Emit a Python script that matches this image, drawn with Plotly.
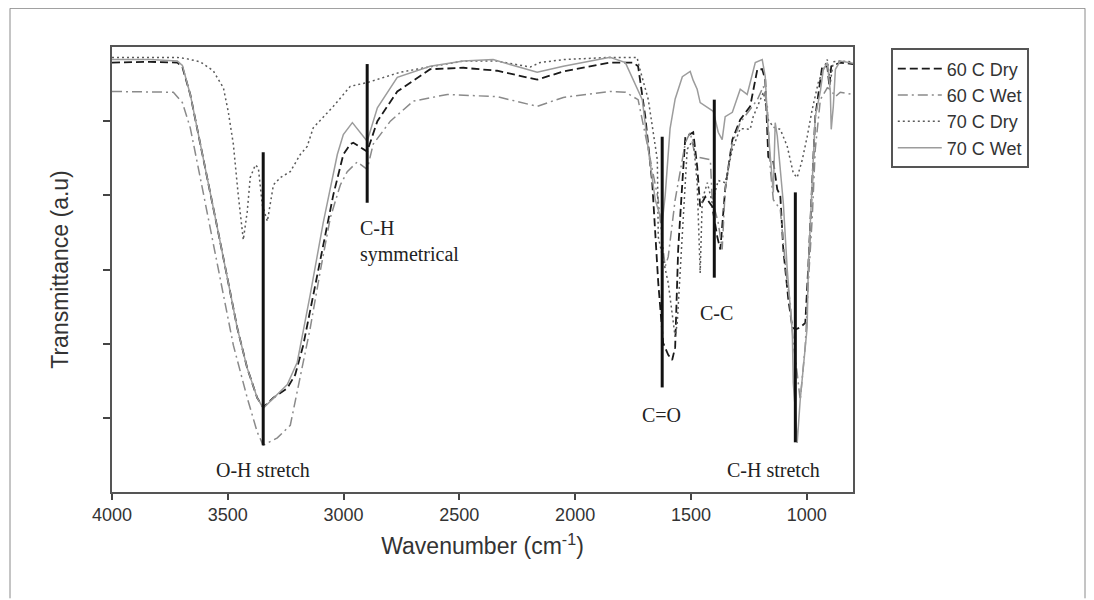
import plotly.graph_objects as go

# ---------------- data (wavenumber cm-1, transmittance a.u.) ----------------
dry60_wn = [4000, 3835, 3718, 3696, 3662, 3632, 3588, 3545, 3502, 3459, 3416, 3373, 3347,
            3303, 3243, 3209, 3174, 3131, 3088, 3044, 3001, 2971, 2958, 2898, 2854, 2768,
            2626, 2483, 2337, 2164, 2051, 1849, 1749, 1728, 1697, 1667, 1641, 1620, 1598,
            1581, 1568, 1555, 1537, 1524, 1490, 1473, 1460, 1438, 1408, 1386, 1373, 1352,
            1321, 1287, 1244, 1213, 1192, 1179, 1166, 1144, 1127, 1114, 1101, 1079, 1062,
            1049, 1028, 1006, 993, 976, 963, 933, 911, 902, 894, 855, 800]
dry60_t = [5.79, 5.80, 5.79, 5.73, 5.36, 4.91, 4.24, 3.56, 2.89, 2.21, 1.67, 1.27, 1.14,
           1.27, 1.40, 1.58, 1.98, 2.66, 3.33, 4.01, 4.55, 4.69, 4.71, 4.59, 5.00, 5.40,
           5.70, 5.72, 5.68, 5.56, 5.67, 5.79, 5.79, 5.74, 5.06, 4.17, 2.82, 2.01, 1.85,
           1.78, 1.95, 3.27, 4.17, 4.79, 4.85, 4.39, 3.85, 3.98, 3.85, 3.44, 3.27, 4.08,
           4.75, 5.02, 5.20, 5.70, 5.70, 5.56, 4.52, 4.45, 4.08, 4.00, 3.27, 2.59, 2.22,
           2.19, 2.22, 2.28, 3.04, 4.17, 5.06, 5.74, 5.74, 5.47, 5.74, 5.79, 5.77]

wet60_wn = [4000, 3835, 3735, 3696, 3662, 3619, 3576, 3532, 3476, 3416, 3373, 3347, 3286,
            3230, 3187, 3144, 3101, 3057, 3014, 2984, 2941, 2898, 2872, 2798, 2699, 2552,
            2337, 2164, 2051, 1849, 1783, 1728, 1684, 1641, 1620, 1611, 1598, 1568, 1524,
            1503, 1481, 1416, 1408, 1382, 1365, 1352, 1321, 1287, 1213, 1187, 1170, 1157,
            1144, 1114, 1101, 1084, 1071, 1058, 1041, 1028, 1006, 993, 976, 963, 941, 911,
            898, 876, 855, 800]
wet60_t = [5.40, 5.39, 5.39, 5.25, 4.91, 4.24, 3.56, 2.89, 1.98, 1.27, 0.81, 0.63, 0.73,
           0.90, 1.54, 2.21, 2.97, 3.70, 4.14, 4.32, 4.45, 4.35, 4.69, 5.00, 5.27, 5.36,
           5.33, 5.20, 5.32, 5.40, 5.39, 5.29, 4.62, 3.94, 3.27, 3.04, 3.17, 3.94, 4.71,
           4.85, 4.52, 4.48, 3.94, 3.63, 3.27, 4.08, 4.71, 4.98, 5.29, 5.47, 5.20, 4.35,
           3.94, 3.81, 3.36, 2.82, 2.55, 2.01, 1.60, 1.24, 1.98, 2.82, 3.70, 4.62, 5.29,
           5.45, 5.43, 5.33, 5.39, 5.36]

dry70_wn = [4000, 3835, 3718, 3675, 3619, 3563, 3519, 3498, 3476, 3455, 3433, 3416, 3403,
            3381, 3368, 3351, 3329, 3303, 3273, 3230, 3187, 3157, 3131, 3044, 2971, 2898,
            2755, 2613, 2483, 2337, 2194, 2151, 2051, 1849, 1732, 1728, 1684, 1645, 1641,
            1598, 1568, 1559, 1537, 1516, 1490, 1473, 1460, 1451, 1429, 1408, 1382, 1352,
            1321, 1287, 1244, 1231, 1187, 1166, 1144, 1114, 1084, 1058, 1041, 1019, 998,
            976, 950, 911, 898, 885, 855, 800]
dry70_t = [5.86, 5.86, 5.86, 5.84, 5.80, 5.68, 5.45, 5.13, 4.69, 4.01, 3.40, 3.78, 4.24,
           4.41, 4.37, 3.87, 3.65, 4.14, 4.24, 4.32, 4.55, 4.66, 4.91, 5.20, 5.47, 5.52,
           5.66, 5.74, 5.81, 5.81, 5.73, 5.79, 5.83, 5.86, 5.86, 5.79, 5.29, 4.48, 3.44,
           2.82, 2.09, 2.28, 3.43, 4.62, 4.75, 4.17, 2.95, 3.94, 4.17, 3.90, 4.20, 4.17,
           4.62, 4.90, 4.89, 5.06, 5.39, 5.02, 4.92, 4.89, 4.66, 4.30, 4.24, 4.48, 4.79,
           5.16, 5.52, 5.83, 5.52, 5.80, 5.81, 5.80]

wet70_wn = [4000, 3835, 3718, 3696, 3662, 3632, 3588, 3545, 3502, 3459, 3416, 3373, 3347,
            3303, 3243, 3200, 3144, 3088, 3027, 3001, 2971, 2962, 2898, 2854, 2768, 2626,
            2483, 2354, 2164, 2051, 1849, 1783, 1710, 1684, 1654, 1624, 1611, 1590, 1568,
            1537, 1503, 1490, 1473, 1460, 1416, 1403, 1382, 1365, 1352, 1321, 1287, 1257,
            1222, 1192, 1179, 1170, 1157, 1148, 1144, 1136, 1127, 1101, 1084, 1062, 1058,
            1049, 1041, 1028, 1015, 998, 993, 976, 963, 941, 928, 911, 898, 894, 885, 876,
            855, 800]
wet70_t = [5.83, 5.83, 5.81, 5.75, 5.36, 4.91, 4.24, 3.56, 2.89, 2.21, 1.67, 1.27, 1.13,
           1.27, 1.45, 1.75, 2.66, 3.63, 4.55, 4.82, 4.95, 4.98, 4.73, 5.18, 5.59, 5.74,
           5.81, 5.83, 5.66, 5.74, 5.86, 5.79, 5.29, 4.62, 3.94, 3.63, 4.00, 4.90, 5.30,
           5.60, 5.67, 5.55, 5.43, 5.25, 5.16, 5.13, 4.85, 4.75, 5.06, 5.12, 5.43, 5.36,
           5.79, 5.83, 5.60, 5.06, 4.52, 4.17, 4.04, 4.98, 4.80, 3.90, 3.00, 2.14, 1.47,
           1.10, 0.66, 1.24, 1.69, 2.22, 3.04, 4.10, 5.06, 5.40, 5.70, 5.79, 5.40, 4.89,
           5.20, 5.70, 5.81, 5.78]

series_names = ["60 C Dry", "60 C Wet", "70 C Dry", "70 C Wet"]

# band marker lines (wavenumber, top, bottom) and labels
band_wn = [3347, 2898, 1624, 1399, 1049]
band_top = [4.58, 5.77, 4.79, 5.29, 4.04]
band_bottom = [0.63, 3.90, 1.41, 2.89, 0.67]
band_labels = ["O-H stretch", "C-H<br>symmetrical", "C=O", "C-C", "C-H stretch"]

x_ticks = [4000, 3500, 3000, 2500, 2000, 1500, 1000]

# ---------------- figure ----------------
styles = [
    dict(color="#1a1a1a", width=1.8, dash="8px,4px"),
    dict(color="#8a8a8a", width=1.5, dash="10px,4px,2px,4px"),
    dict(color="#5a5a5a", width=1.5, dash="2px,3px"),
    dict(color="#9c9c9c", width=1.5, dash="solid"),
]
data = [(dry60_wn, dry60_t), (wet60_wn, wet60_t), (dry70_wn, dry70_t), (wet70_wn, wet70_t)]

fig = go.Figure()
for (xs, ys), name, st in zip(data, series_names, styles):
    fig.add_trace(go.Scatter(x=xs, y=ys, mode="lines", name=name, line=st))

for wn, t, b in zip(band_wn, band_top, band_bottom):
    fig.add_shape(type="line", xref="x", yref="y", x0=wn, x1=wn, y0=b, y1=t,
                  line=dict(color="#111111", width=3))

serif = dict(family="Liberation Serif, Times New Roman, serif", size=20, color="#222222")
label_pos = [(3347, 0.29, "center"), (2937, 3.38, "left"), (1628, 1.04, "center"),
             (1391, 2.41, "center"), (1145, 0.29, "center")]
for txt, (x, y, anc) in zip(band_labels, label_pos):
    fig.add_annotation(x=x, y=y, xref="x", yref="y", text=txt, showarrow=False,
                       xanchor=anc, yanchor="middle", align="left", font=serif)

# outer frame of the figure image (page pixel coords -> paper)
PL, PW, PB, PH = 112, 741, 491.7, 445
for x0, y0, x1, y1 in [(10, 8, 1085, 8), (10, 8, 10, 598), (1085, 8, 1085, 598)]:
    fig.add_shape(type="line", xref="paper", yref="paper",
                  x0=(x0 - PL) / PW, x1=(x1 - PL) / PW,
                  y0=(PB - y0) / PH, y1=(PB - y1) / PH,
                  line=dict(color="#8a8a8a", width=1))

sans = "Liberation Sans, Arial, sans-serif"
fig.update_layout(
    width=1094, height=600,
    margin=dict(l=104, r=249, t=39, b=116),
    paper_bgcolor="white", plot_bgcolor="white",
    font=dict(family=sans, color="#333333"),
    showlegend=True,
    legend=dict(x=1.051, y=0.997, xanchor="left", yanchor="top",
                bordercolor="#555555", borderwidth=2, bgcolor="white",
                font=dict(family=sans, size=18, color="#333333"),
                itemwidth=44, tracegroupgap=0),
    xaxis=dict(range=[4000, 800], tickvals=x_ticks, ticks="outside", ticklen=6,
               tickwidth=1.5, tickcolor="#444", showline=True, linecolor="#555",
               linewidth=1.5, mirror=True, showgrid=False, zeroline=False,
               tickfont=dict(family=sans, size=18, color="#333"),
               title=dict(text="Wavenumber (cm<sup>-1</sup>)", standoff=14,
                          font=dict(family=sans, size=23, color="#333"))),
    yaxis=dict(range=[0, 6], tickvals=[1, 2, 3, 4, 5], ticks="outside", ticklen=7,
               tickwidth=1.5, tickcolor="#444", showticklabels=False, showline=True,
               linecolor="#555", linewidth=1.5, mirror=True, showgrid=False,
               zeroline=False,
               title=dict(text="Transmittance (a.u)", standoff=28,
                          font=dict(family=sans, size=23, color="#333"))),
)

fig.write_html("out.html")
